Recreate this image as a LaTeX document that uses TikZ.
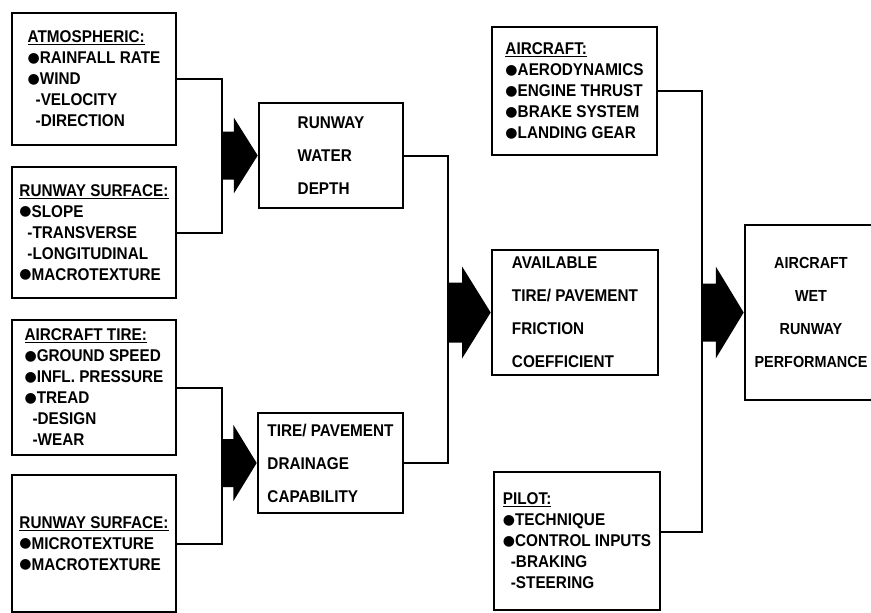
\documentclass[tikz,border=0pt]{standalone}
\usepackage{fontspec}
\setmainfont{Liberation Sans}[FakeStretch=0.9]
\newfontfamily\symfont{DejaVu Sans}
\usetikzlibrary{positioning, calc}

\newcommand{\bul}{\raisebox{1.2pt}{\symfont\fontsize{14}{21}\selectfont ●}}
% filled block arrow from a junction coordinate to the west side of a box
\newcommand{\blockarrow}[4]{%
  \fill let \p1=(#1), \p2=(#2.west), \n1={0.67*(\x2-\x1)} in
    (\x1,\y2+#3) -- (\x2-\n1,\y2+#3) -- (\x2-\n1,\y2+#4) -- (\p2)
    -- (\x2-\n1,\y2-#4) -- (\x2-\n1,\y2-#3) -- (\x1,\y2-#3) -- cycle;}

\begin{document}
\begin{tikzpicture}[x=1pt, y=-1pt,
  every node/.style={text=black, font=\fontsize{17}{21}\selectfont\bfseries},
  conn/.style={draw=black, line width=2pt},
  listbox/.style={draw, line width=2.6pt, align=left, inner sep=3pt},
  factorbox/.style={draw, line width=2.6pt, align=left, inner sep=3pt,
                    font=\fontsize{17}{33}\selectfont\bfseries}]

  \useasboundingbox (0,0) rectangle (871,613);

  %% LEFT COLUMN: input factors
  \node[listbox, minimum width=164pt, minimum height=132pt] (atm) at (94,79)
      {\underline{ATMOSPHERIC:}\\ \bul RAINFALL RATE\\ \bul WIND\\
       \hspace*{8pt}-VELOCITY\\ \hspace*{8pt}-DIRECTION};
  \node[listbox, minimum width=164pt, minimum height=131pt] (rws1) at (94,232.5)
      {\underline{RUNWAY SURFACE:}\\ \bul SLOPE\\ \hspace*{8pt}-TRANSVERSE\\
       \hspace*{8pt}-LONGITUDINAL\\ \bul MACROTEXTURE};
  \node[listbox, minimum width=164pt, minimum height=135pt] (tire) at (94,387.5)
      {\underline{AIRCRAFT TIRE:}\\ \bul GROUND SPEED\\ \bul INFL. PRESSURE\\
       \bul TREAD\\ \hspace*{8pt}-DESIGN\\ \hspace*{8pt}-WEAR};
  \node[listbox, minimum width=164pt, minimum height=137pt] (rws2) at (94,543.5)
      {\underline{RUNWAY SURFACE:}\\ \bul MICROTEXTURE\\ \bul MACROTEXTURE};

  %% SECOND COLUMN
  \node[factorbox, minimum width=144pt, minimum height=105pt] (rwd) at (331,155.5)
      {RUNWAY\\ WATER\\ DEPTH};
  \node[factorbox, minimum width=145pt, minimum height=100pt] (tpdc) at (330.5,463)
      {TIRE/ PAVEMENT\\ DRAINAGE\\ CAPABILITY};

  \coordinate (jA) at (222,155);
  \coordinate (jC) at (222,463);
  \draw[conn] (atm.east) -| (jA) |- (rws1.east);
  \draw[conn] (tire.east) -| (jC) |- (rws2.east);
  \blockarrow{jA}{rwd}{24pt}{38pt}
  \blockarrow{jC}{tpdc}{24pt}{38pt}

  %% THIRD COLUMN
  \node[factorbox, minimum width=166pt, minimum height=125pt] (avail) at (575,312.5)
      {AVAILABLE\\ TIRE/ PAVEMENT\\ FRICTION\\ COEFFICIENT};
  \node[listbox, minimum width=165pt, minimum height=128pt] (acft) at (574.5,91)
      {\underline{AIRCRAFT:}\\ \bul AERODYNAMICS\\ \bul ENGINE THRUST\\
       \bul BRAKE SYSTEM\\ \bul LANDING GEAR};
  \node[listbox, minimum width=166pt, minimum height=138pt] (pilot) at (577,541)
      {\underline{PILOT:}\\ \bul TECHNIQUE\\ \bul CONTROL INPUTS\\
       \hspace*{8pt}-BRAKING\\ \hspace*{8pt}-STEERING};

  \coordinate (jB) at (448,312);
  \draw[conn] (rwd.east) -| (jB) |- (tpdc.east);
  \blockarrow{jB}{avail}{30pt}{46pt}

  %% OUTPUT
  \node[factorbox, align=center, minimum width=132pt, minimum height=175pt,
        font=\fontsize{16}{33}\selectfont\bfseries]
      (result) at (811,312.5) {AIRCRAFT\\ WET\\ RUNWAY\\ PERFORMANCE};

  \coordinate (jD) at (702,312);
  \draw[conn] (acft.east) -| (jD) |- ([yshift=9pt]pilot.east);
  \blockarrow{jD}{result}{29pt}{46pt}

\end{tikzpicture}
\end{document}
